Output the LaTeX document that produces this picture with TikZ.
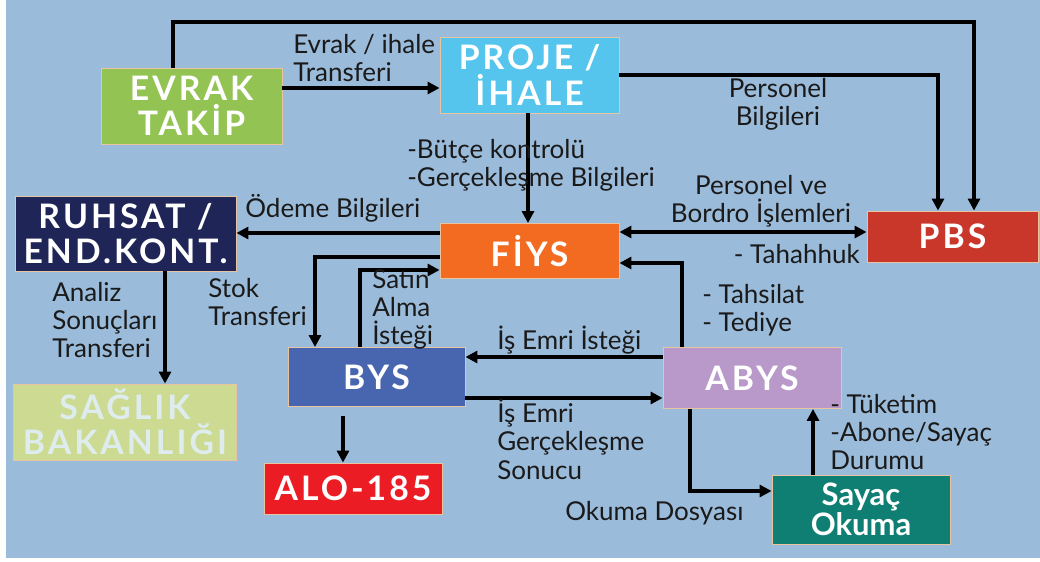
\documentclass[tikz,border=0pt]{standalone}
\usepackage{fontspec}
\setsansfont{Lato}
\newfontfamily\boxfont[LetterSpace=9]{Lato}
\usetikzlibrary{arrows.meta}
\definecolor{bgcol}{RGB}{155, 187, 218}
\definecolor{evrakcol}{RGB}{146, 195, 83}
\definecolor{projecol}{RGB}{86, 197, 238}
\definecolor{ruhsatcol}{RGB}{31, 37, 86}
\definecolor{fiyscol}{RGB}{242, 107, 33}
\definecolor{pbscol}{RGB}{201, 54, 42}
\definecolor{byscol}{RGB}{72, 102, 175}
\definecolor{abyscol}{RGB}{184, 153, 201}
\definecolor{saglikcol}{RGB}{204, 218, 146}
\definecolor{saglikfont}{RGB}{222, 236, 238}
\definecolor{alocol}{RGB}{236, 28, 36}
\definecolor{sayaccol}{RGB}{15, 127, 116}
\definecolor{edgecol}{RGB}{232, 196, 160}
\definecolor{txtcol}{RGB}{26, 26, 26}
\tikzset{
  blk/.style  = {draw=edgecol, line width=0.6pt, align=center, text=white,
                 inner sep=0pt,
                 font=\boxfont\bfseries\fontsize{24pt}{25pt}\selectfont},
  lbl/.style  = {font=\sffamily\fontsize{18.5pt}{20pt}\selectfont,
                 text=txtcol, inner sep=0pt, align=left},
  flow/.style = {-{Triangle[length=3mm, width=3mm]}, draw=black,
                 line width=0.85mm},
  bus/.style  = {{Triangle[length=3mm, width=3mm]}-{Triangle[length=3mm, width=3mm]},
                 draw=black, line width=0.85mm},
}
\begin{document}
\begin{tikzpicture}[x=0.25mm, y=-0.25mm]

  \useasboundingbox (0,0) rectangle (1040,561);
  \fill[bgcol] (6,0) rectangle (1040,558);

  %% ---------------- the systems ----------------
  \node[blk, fill=evrakcol, minimum width=45.25mm, minimum height=19mm]
       (evrak) at (191.5,106) {EVRAK\\TAKİP};
  \node[blk, fill=projecol, minimum width=44.75mm, minimum height=19mm]
       (proje) at (529.5,75) {PROJE /\\İHALE};
  \node[blk, fill=ruhsatcol, minimum width=55.25mm, minimum height=18.75mm]
       (ruhsat) at (125.5,233.5) {RUHSAT /\\END.KONT.};
  \node[blk, fill=fiyscol, minimum width=44.75mm, minimum height=13.75mm]
       (fiys) at (529.5,251) {FİYS};
  \node[blk, fill=pbscol, minimum width=42.75mm, minimum height=12.75mm]
       (pbs) at (952.5,236.5) {PBS};
  \node[blk, fill=byscol, minimum width=44.25mm, minimum height=14.75mm]
       (bys) at (376.5,377) {BYS};
  \node[blk, fill=abyscol, minimum width=44.5mm, minimum height=15.25mm]
       (abys) at (752,378) {ABYS};
  \node[blk, fill=saglikcol, text=saglikfont, minimum width=55.75mm,
        minimum height=19mm] (saglik) at (125,422) {SAĞLIK\\BAKANLIĞI};
  \node[blk, fill=alocol, minimum width=44.5mm, minimum height=12.75mm]
       (alo) at (353,488.5) {ALO-185};
  \node[blk, fill=sayaccol, font=\sffamily\bfseries\fontsize{22pt}{21pt}\selectfont,
        minimum width=44.5mm, minimum height=17.25mm]
       (sayac) at (861,509.5) {Sayaç\\Okuma};

  %% ---------------- the transfers ----------------
  \draw[flow] (evrak.east |- 0,88) -- (proje.west |- 0,88);
  \draw[flow] (evrak.north -| 173,0) |- (974,22) -- (pbs.north -| 974,0);
  \draw[flow] (proje.east |- 0,75) -| (pbs.north -| 938,0);
  \draw[flow] (proje.south -| 528,0) -- (fiys.north -| 528,0);
  \draw[bus]  (fiys.east |- 0,232) -- (pbs.west |- 0,232);
  \draw[flow] (fiys.west |- 0,233) -- (ruhsat.east |- 0,233);
  \draw[flow] (fiys.west |- 0,257) -| (bys.north -| 315,0);
  \draw[flow] (bys.north -| 360,0) |- (fiys.west |- 0,270);
  \draw[flow] (abys.west |- 0,357) -- (bys.east |- 0,357);
  \draw[flow] (bys.east |- 0,398) -- (abys.west |- 0,398);
  \draw[flow] (abys.north -| 682,0) |- (fiys.east |- 0,263);
  \draw[flow] (abys.south -| 690,0) |- (sayac.west |- 0,491);
  \draw[flow] (sayac.north -| 813,0) -- (abys.south -| 813,0);
  \draw[flow] (ruhsat.south -| 165,0) -- (saglik.north -| 165,0);
  \draw[flow, shorten <=2.2mm] (bys.south -| 343,0) -- (alo.north -| 343,0);

  %% ---------------- labels ----------------
  \node[lbl, anchor=north west] (lbevrak) at (293,34) {Evrak / ihale\\Transferi};
  \node[lbl, anchor=north west] (lbbutce) at (407,139)
       {-Bütçe kontrolü\\-Gerçekleşme Bilgileri};
  \node[lbl, anchor=north, align=center] (lbpers) at (778,78) {Personel\\Bilgileri};
  \node[lbl, anchor=north, align=center] (lbbordro) at (761,175)
       {Personel ve\\Bordro İşlemleri};
  \node[lbl, anchor=east] (lbtahak) at (860,254) {- Tahahhuk};
  \node[lbl, anchor=west] (lbodeme) at (245,208) {Ödeme Bilgileri};
  \node[lbl, anchor=north west] (lbanaliz) at (52,282)
       {Analiz\\Sonuçları\\Transferi};
  \node[lbl, anchor=north west] (lbstok) at (208,278) {Stok\\Transferi};
  \node[lbl, anchor=north west] (lbsatin) at (372,269) {Satın\\Alma\\İsteği};
  \node[lbl, anchor=west] (lbisemri) at (497,340) {İş Emri İsteği};
  \node[lbl, anchor=north west] (lbsonuc) at (497,399)
       {İş Emri\\Gerçekleşme\\Sonucu};
  \node[lbl, anchor=north west] (lbtahsil) at (702,284) {- Tahsilat\\- Tediye};
  \node[lbl, anchor=west] (lbokuma) at (565,513) {Okuma Dosyası};
  \node[lbl, anchor=north west] (lbtuket) at (830,394)
       {- Tüketim\\-Abone/Sayaç\\Durumu};

\end{tikzpicture}
\end{document}
